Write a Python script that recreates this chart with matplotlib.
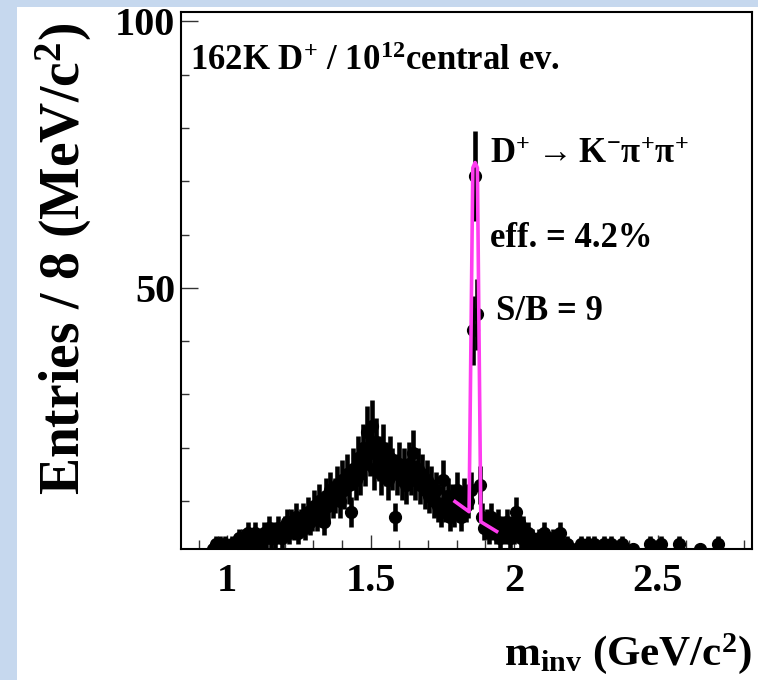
import numpy as np
import matplotlib
matplotlib.use("Agg")
import matplotlib.pyplot as plt
from matplotlib.ticker import FixedLocator, MultipleLocator
from matplotlib.patches import Rectangle

# D+ -> K- pi+ pi+ invariant-mass spectrum, 8 MeV/c^2 bins starting at 0.952 GeV/c^2
bin_start = 0.952
bin_width = 0.008
counts = [
    1, 2, 1, 2, 1, 2, 0, 1, 2, 1,
    2, 3, 2, 3, 2, 4, 2, 3, 4, 3,
    2, 3, 4, 3, 5, 3, 4, 3, 5, 4,
    3, 5, 6, 4, 6, 5, 7, 4, 6, 7,
    5, 8, 6, 7, 9, 7, 10, 8, 6, 11,
    9, 12, 10, 11, 13, 10, 14, 12, 15, 13,
    8, 16, 14, 18, 15, 20, 17, 23, 19, 24,
    16, 21, 18, 15, 20, 17, 14, 18, 16, 7,
    15, 17, 14, 16, 13, 17, 15, 19, 14, 16,
    13, 15, 12, 14, 11, 13, 10, 12, 9, 8,
    14, 9, 11, 7, 10, 8, 12, 9, 7, 11,
    9, 10, 12, 42, 71, 45, 13, 7, 5, 6,
    4, 7, 5, 4, 6, 3, 5, 4, 6, 3,
    5, 4, 8, 6, 3, 5, 2, 4, 1, 3,
    2, 1, 3, 2, 4, 2, 1, 2, 3, 1,
    2, 4, 2, 1, 2, 0, 1, 0, 0, 1,
    2, 0, 1, 2, 0, 1, 2, 0, 1, 0,
    2, 1, 0, 2, 0, 0, 0, 0, 2, 0,
    0, 0, 0, 1, 0, 0, 0, 0, 0, 0,
    2, 0, 0, 0, 0, 2, 0, 0, 0, 0,
    0, 0, 0, 2, 0, 0, 0, 0, 0, 0,
    0, 0, 1, 0, 0, 0, 0, 0, 0, 0,
    2, 0,
]

# signal + background fit, as drawn
fit_mass = [1.794, 1.843, 1.856, 1.864, 1.872, 1.884, 1.939]
fit_value = [9.9, 8.0, 72.5, 73.5, 72.5, 6.1, 4.3]

x_ticks = [1.0, 1.5, 2.0, 2.5]
x_tick_labels = ["1", "1.5", "2", "2.5"]
y_ticks = [50, 100]
y_tick_labels = ["50", "100"]

plt.rcParams["font.family"] = ["Liberation Serif", "DejaVu Serif"]
plt.rcParams["font.weight"] = "bold"
plt.rcParams["mathtext.fontset"] = "custom"
plt.rcParams["mathtext.rm"] = "Liberation Serif:bold"
plt.rcParams["mathtext.it"] = "Liberation Serif:bold"
plt.rcParams["mathtext.bf"] = "Liberation Serif:bold"

W, H = 758, 680
fig = plt.figure(figsize=(W / 100, H / 100), dpi=100, facecolor="white")

# slide background strips
fig.patches.append(Rectangle((0, 0), 17 / W, 1, transform=fig.transFigure,
                             facecolor="#c6d8ee", edgecolor="none", zorder=0))
fig.patches.append(Rectangle((0, 1 - 7 / H), 1, 7 / H, transform=fig.transFigure,
                             facecolor="#c6d8ee", edgecolor="none", zorder=0))

ax = fig.add_axes([181 / W, 1 - 549 / H, (752 - 181) / W, (549 - 11.7) / H])

counts_arr = np.array(counts, dtype=float)
centers = bin_start + bin_width * np.arange(len(counts_arr))
filled = counts_arr > 0
ax.errorbar(centers[filled], counts_arr[filled], yerr=np.sqrt(counts_arr[filled]),
            fmt="o", color="black", ms=8.5, elinewidth=3.3, capsize=0, zorder=2)

ax.plot(fit_mass, fit_value, color="#ff3cf0", lw=2.6, zorder=3)

ax.set_xlim(0.839, 2.829)
ax.set_ylim(1.0, 101.8)

ax.xaxis.set_major_locator(FixedLocator(x_ticks))
ax.set_xticklabels(x_tick_labels)
ax.xaxis.set_minor_locator(MultipleLocator(0.1))
ax.yaxis.set_major_locator(FixedLocator(y_ticks))
ax.set_yticklabels(y_tick_labels)
ax.yaxis.set_minor_locator(MultipleLocator(10))

ax.tick_params(axis="both", which="both", direction="in", top=False, right=False,
               labelsize=29, width=1.0, color="#333333")
ax.tick_params(axis="y", which="major", length=12, pad=4)
ax.tick_params(axis="y", which="minor", length=6)
ax.tick_params(axis="x", which="major", length=10, pad=10)
ax.tick_params(axis="x", which="minor", length=6.5)
for s in ax.spines.values():
    s.set_linewidth(1.5)

ax.text(0.016, 0.891, r"162K D$^{+}$ / 10$^{12}$central ev.", transform=ax.transAxes,
        fontsize=25, ha="left", va="baseline")
ax.text(0.541, 0.718, "D$^{+}$\u2009→\u2009K$^{-}$π$^{+}$π$^{+}$", transform=ax.transAxes,
        fontsize=25, ha="left", va="baseline")
ax.text(0.541, 0.562, "eff. = 4.2%", transform=ax.transAxes,
        fontsize=25, ha="left", va="baseline")
ax.text(0.551, 0.426, "S/B = 9", transform=ax.transAxes,
        fontsize=25, ha="left", va="baseline")

fig.text(64 / W, 1 - 495 / H, r"Entries / 8 (MeV/c$^{2}$)", rotation=90,
         fontsize=40, ha="center", va="bottom")
fig.text(752 / W, 1 - 665 / H, r"m$_{\rm inv}$ (GeV/c$^{2}$)",
         fontsize=31, ha="right", va="baseline")

fig.savefig("out.png", dpi=100, facecolor="white")
